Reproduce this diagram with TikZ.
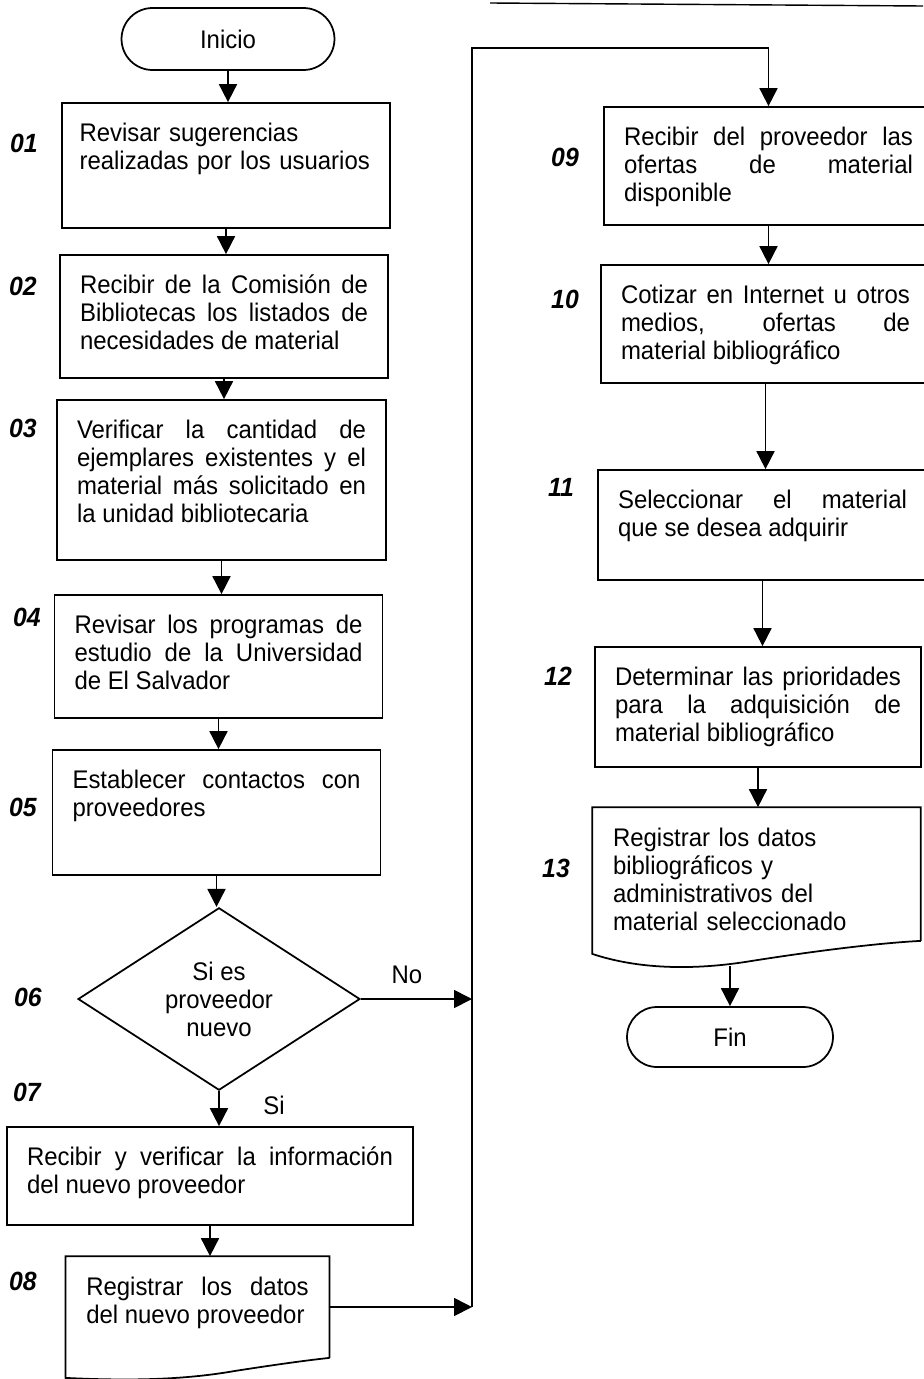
\documentclass[tikz,border=0pt]{standalone}
\usepackage{fontspec}
\setmainfont{Liberation Sans}[FakeStretch=0.94]
\usetikzlibrary{arrows.meta, shapes.geometric, shapes.misc, calc}
\tolerance=10000
\hbadness=10000
\vfuzz=\maxdimen
\hyphenpenalty=10000
% text pinned to the top of a box of fixed height (justified / ragged)
\newcommand{\toptext}[2]{\parbox[c][#1][t]{\linewidth}{\spaceskip=0.26em plus 1fil\rightskip=0pt\parfillskip=0pt plus 1fill #2}}
\newcommand{\toplefttext}[2]{\parbox[c][#1][t]{\linewidth}{\raggedright #2}}

\begin{document}
\begin{tikzpicture}[x=0.02cm, y=-0.02cm,
  every node/.style={font=\fontsize{14.5}{15.9}\selectfont},
  stepbox/.style={draw, line width=1pt, rectangle, inner sep=0.4cm, text width=5.76cm},
  docbox/.style={stepbox, draw=none},
  term/.style={draw, line width=1pt, rounded rectangle, inner sep=0pt},
  decision/.style={draw, line width=1pt, diamond, inner sep=0pt, align=center,
    minimum width=5.64cm, minimum height=3.56cm},
  stepno/.style={font=\fontsize{15}{16}\selectfont\bfseries\itshape},
  flow/.style={line width=1pt, -{Triangle[length=0.36cm, width=0.36cm]}}]
  \useasboundingbox (0, 0) rectangle (923, 1379);

  % stray edge at top of page
  \draw[line width=0.8pt] (490, 3) -- (923, 6);

  % left column
  \node[term, minimum width=4.26cm, minimum height=1.24cm] (ini) at (228, 39) {Inicio};
  \node[stepbox, text width=5.86cm, inner xsep=0.35cm] (p01) at (226, 165.5) {\toplefttext{1.70cm}{Revisar sugerencias\\realizadas por los usuarios}};
  \node[stepbox] (p02) at (224, 316.5) {\toptext{1.66cm}{Recibir de la Comisión de\linebreak Bibliotecas los listados de\linebreak necesidades de material}};
  \node[stepbox, text width=5.78cm] (p03) at (221.5, 480) {\toptext{2.40cm}{Verificar la cantidad de\linebreak ejemplares existentes y el\linebreak material más solicitado en\linebreak la unidad bibliotecaria}};
  \node[stepbox] (p04) at (218.5, 656.5) {\toptext{1.66cm}{Revisar los programas de\linebreak estudio de la Universidad\linebreak de El Salvador}};
  \node[stepbox] (p05) at (216.5, 812.5) {\toptext{1.70cm}{Establecer contactos con\linebreak proveedores}};
  \node[decision] (d06) at (219, 999) {Si es\\proveedor\\nuevo};
  \node[stepbox, text width=7.32cm] (p07) at (210, 1176) {\toptext{1.16cm}{Recibir y verificar la información\linebreak del nuevo proveedor}};
  \node[docbox, text width=4.45cm] (p08) at (197.5, 1307) {\toptext{1.20cm}{Registrar los datos\linebreak del nuevo proveedor}};
  \draw[line width=1pt] (p08.south east) -- (p08.north east) -- (p08.north west) -- ($(p08.south west)+(0,20)$)
    .. controls ($(p08.south west)+(80,24)$) and ($(p08.south west)+(130,20)$) .. ($(p08.south west)+(170,13)$)
    .. controls ($(p08.south west)+(215,6)$) and ($(p08.south west)+(245,2)$) .. (p08.south east);

  % right column
  \node[stepbox, text width=5.78cm] (p09) at (768.5, 166) {\toptext{1.56cm}{Recibir del proveedor las\linebreak ofertas de material\linebreak disponible}};
  \node[stepbox, text width=5.78cm] (p10) at (765.5, 324) {\toptext{1.56cm}{Cotizar en Internet u otros\linebreak medios, ofertas de\linebreak material bibliográfico}};
  \node[stepbox, text width=5.78cm] (p11) at (762.5, 525) {\toptext{1.40cm}{Seleccionar el material\linebreak que se desea adquirir}};
  \node[stepbox, text width=5.72cm] (p12) at (758, 707) {\toptext{1.60cm}{Determinar las prioridades\linebreak para la adquisición de\linebreak material bibliográfico}};
  \node[docbox, text width=5.74cm] (p13) at (756.5, 874) {\toplefttext{1.84cm}{Registrar los datos\\bibliográficos y\\administrativos del\\material seleccionado}};
  \draw[line width=1pt] (p13.south east) -- (p13.north east) -- (p13.north west) -- ($(p13.south west)+(0,13)$)
    .. controls ($(p13.south west)+(45,28)$) and ($(p13.south west)+(100,30)$) .. ($(p13.south west)+(160,20)$)
    .. controls ($(p13.south west)+(230,9)$) and ($(p13.south west)+(290,2)$) .. (p13.south east);
  \node[term, minimum width=4.12cm, minimum height=1.20cm] (fin) at (730, 1037) {Fin};

  % step numbers
  \node[stepno] (n01) at (24, 143) {01};
  \node[stepno] (n02) at (23, 286) {02};
  \node[stepno] (n03) at (23, 428) {03};
  \node[stepno] (n04) at (27, 617) {04};
  \node[stepno] (n05) at (23, 807) {05};
  \node[stepno] (n06) at (28, 997) {06};
  \node[stepno] (n07) at (27, 1092) {07};
  \node[stepno] (n08) at (23, 1281) {08};
  \node[stepno] (n09) at (565, 157) {09};
  \node[stepno] (n10) at (565, 299) {10};
  \node[stepno] (n11) at (561, 487) {11};
  \node[stepno] (n12) at (558, 676) {12};
  \node[stepno] (n13) at (556, 868) {13};

  % branch labels
  \node (no) at (407, 975) {No};
  \node (si) at (274, 1105) {Si};

  % connectors
  \coordinate (busb) at (472, 1307);
  \coordinate (bust) at (472, 48);
  \draw[flow] (ini.south) -- (ini.south |- p01.north);
  \draw[flow] (p01.south) -- (p01.south |- p02.north);
  \draw[flow] (p02.south) -- (p02.south |- p03.north);
  \draw[flow] (p03.south) -- (p03.south |- p04.north);
  \draw[flow] (p04.south) -- (p04.south |- p05.north);
  \draw[flow] (p05.south) -- (p05.south |- d06.north);
  \draw[flow] (d06.south) -- (d06.south |- p07.north);
  \draw[flow] (p07.south) -- (p07.south |- p08.north);
  \draw[flow] (d06.east) -- (d06.east -| busb);
  \draw[flow] (p08.east) -- (p08.east -| busb);
  \draw[flow] (busb) -- (bust) -| (p09.north);
  \draw[flow] (p09.south) -- (p09.south |- p10.north);
  \draw[flow] (p10.south) -- (p10.south |- p11.north);
  \draw[flow] (p11.south) -- (p11.south |- p12.north);
  \draw[flow] (p12.south) -- (p12.south |- p13.north);
  \draw[flow] ([yshift=-0.5cm]p13.south -| fin.north) -- (fin.north);
\end{tikzpicture}
\end{document}
